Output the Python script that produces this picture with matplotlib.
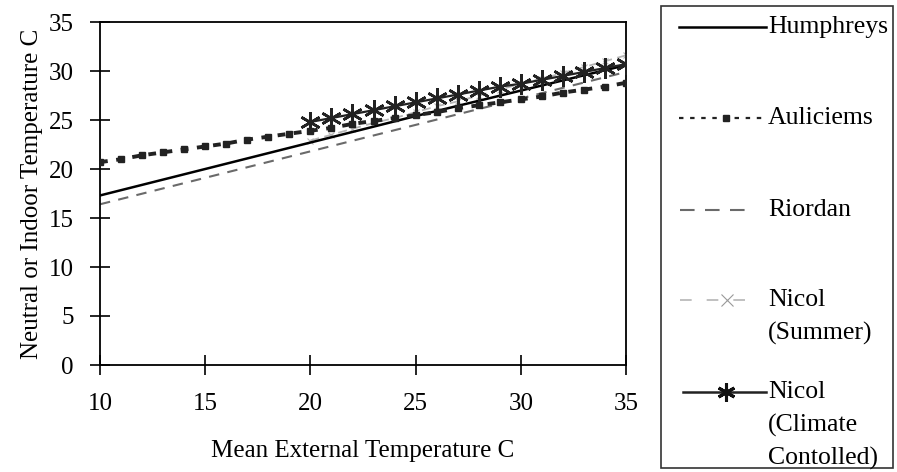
import matplotlib
matplotlib.use("Agg")
import matplotlib.pyplot as plt
from matplotlib.lines import Line2D
from matplotlib.patches import Rectangle

plt.rcParams['font.family'] = ['Liberation Serif', 'DejaVu Serif']

# ---- data ----
hum_x = [10, 15, 20, 25, 30, 35]
hum_y = [17.3, 20.0, 22.7, 25.4, 28.0, 30.6]

aul_x = [10, 11, 12, 13, 14, 15, 16, 17, 18, 19, 20, 21, 22, 23, 24, 25,
         26, 27, 28, 29, 30, 31, 32, 33, 34, 35]
aul_y = [20.7, 21.0, 21.4, 21.7, 22.0, 22.3, 22.6, 23.0, 23.3, 23.6, 23.9,
         24.2, 24.6, 24.9, 25.2, 25.5, 25.8, 26.2, 26.5, 26.8, 27.1, 27.4,
         27.8, 28.1, 28.4, 28.8]

rio_x = [10, 15, 20, 25, 30, 35]
rio_y = [16.4, 19.1, 21.8, 24.5, 27.2, 29.9]

nsu_x = [20, 21, 22, 23, 24, 25, 26, 27, 28, 29, 30, 31, 32, 33, 34, 35]
nsu_y = [22.9, 23.5, 24.1, 24.7, 25.2, 25.8, 26.4, 26.9, 27.5, 28.1, 28.7,
         29.2, 29.8, 30.4, 31.0, 31.6]

ncc_x = [20, 21, 22, 23, 24, 25, 26, 27, 28, 29, 30, 31, 32, 33, 34, 35]
ncc_y = [24.8, 25.2, 25.6, 26.0, 26.4, 26.8, 27.2, 27.6, 28.0, 28.4, 28.7,
         29.1, 29.5, 29.9, 30.3, 30.7]

xticks = [10, 15, 20, 25, 30, 35]
yticks = [0, 5, 10, 15, 20, 25, 30, 35]

labels = ["Humphreys", "Auliciems", "Riordan", ["Nicol", "(Summer)"],
          ["Nicol", "(Climate", "Contolled)"]]

W, H = 897, 472
fig = plt.figure(figsize=(W / 100, H / 100), dpi=100)
L, R, T, B = 100, 626, 22, 365
ax = fig.add_axes([L / W, 1 - B / H, (R - L) / W, (B - T) / H])

asterisk = (6, 2, 0)

ax.plot(rio_x, rio_y, color='#6a6a6a', lw=1.5, ls=(0, (5, 4)), zorder=2)
ax.plot(nsu_x, nsu_y, color='#b5b5b5', lw=1.3, ls=(0, (5, 3)), marker='x',
        ms=5, mew=0.8, zorder=2)
ax.plot(hum_x, hum_y, color='black', lw=1.8, zorder=3)
ax.plot(aul_x, aul_y, color='#222222', lw=2.8, ls=(0, (2, 2.2)), marker='s',
        ms=3.8, zorder=3)
ax.plot(ncc_x, ncc_y, color='#222222', lw=1.6, marker=asterisk, ms=15,
        mew=1.9, zorder=4)

ax.set_xlim(10, 35)
ax.set_ylim(0, 35)
ax.set_xticks(xticks)
ax.set_yticks(yticks)
ax.tick_params(direction='inout', length=14, width=1.2, labelsize=18,
               colors='black')
ax.tick_params(axis='x', pad=13)
ax.tick_params(axis='y', pad=12)
for s in ax.spines.values():
    s.set_linewidth(1.3)
ax.set_xlabel("Mean External Temperature C", fontsize=18, labelpad=18)
ax.set_ylabel("Neutral or Indoor Temperature C", fontsize=18, labelpad=4)

# ---- legend box drawn in figure pixel coordinates ----
lax = fig.add_axes([0, 0, 1, 1], zorder=5)
lax.set_xlim(0, W)
lax.set_ylim(H, 0)
lax.axis('off')
lax.patch.set_alpha(0)
lax.add_patch(Rectangle((661, 6), 232, 462, fill=False, ec='#333333', lw=1.2))

ys = [27, 118, 210, 300, 392]
lax.add_line(Line2D([679, 766], [ys[0]] * 2, color='black', lw=1.8))
lax.add_line(Line2D([679, 766], [ys[1]] * 2, color='#222222', lw=1.6,
                    ls=(0, (2, 3))))
lax.add_line(Line2D([726], [ys[1]], marker='s', ms=5, color='#222222', ls='none'))
lax.add_line(Line2D([680, 755], [ys[2]] * 2, color='#6a6a6a', lw=1.5,
                    ls=(0, (7, 5))))
lax.add_line(Line2D([680, 755], [ys[3]] * 2, color='#b5b5b5', lw=1.2,
                    ls=(0, (7, 9))))
lax.add_line(Line2D([727], [ys[3]], marker='x', ms=8, mew=0.8, color='#999999',
                    ls='none'))
lax.add_line(Line2D([683, 766], [ys[4]] * 2, color='#222222', lw=1.8))
lax.add_line(Line2D([726], [ys[4]], marker=asterisk, ms=13, mew=2.2,
                    color='#111111', ls='none'))

for y, lab in zip(ys, labels):
    lines = lab if isinstance(lab, list) else [lab]
    for i, t in enumerate(lines):
        lax.text(768, y + i * 33, t, fontsize=18.5, va='center', ha='left')

fig.savefig("out.png", dpi=100)
